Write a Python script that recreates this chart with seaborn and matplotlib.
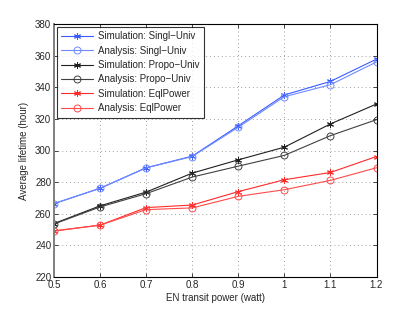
import numpy as np
import pandas as pd
import matplotlib
matplotlib.use("Agg")
import matplotlib.pyplot as plt
import seaborn as sns

# data
power = [0.5, 0.6, 0.7, 0.8, 0.9, 1.0, 1.1, 1.2]
sim_singl = [266.4, 276.1, 289.1, 296.4, 315.6, 335.1, 343.7, 357.8]
ana_singl = [266.4, 276.1, 289.0, 296.2, 314.7, 334.0, 341.6, 356.0]
sim_propo = [253.8, 265.0, 273.7, 285.7, 294.1, 302.1, 316.8, 329.4]
ana_propo = [253.5, 264.3, 272.7, 283.2, 290.1, 296.9, 309.4, 319.5]
sim_eql = [249.2, 252.8, 263.9, 265.5, 274.0, 281.5, 286.1, 296.2]
ana_eql = [249.0, 252.8, 262.6, 263.7, 271.0, 275.2, 281.1, 289.1]

series = [
    ("Simulation: Singl\u2212Univ", sim_singl, "#3b5bff", (6, 2, 0)),
    ("Analysis: Singl\u2212Univ", ana_singl, "#6f8bff", "o"),
    ("Simulation: Propo\u2212Univ", sim_propo, "#202020", (6, 2, 0)),
    ("Analysis: Propo\u2212Univ", ana_propo, "#404040", "o"),
    ("Simulation: EqlPower", sim_eql, "#ff2a2a", (6, 2, 0)),
    ("Analysis: EqlPower", ana_eql, "#ff4a4a", "o"),
]

sns.set_style("ticks")
plt.rcParams['font.family'] = ['Liberation Sans', 'DejaVu Sans']

fig = plt.figure(figsize=(4.15, 3.12), dpi=100)
ax = fig.add_axes([54 / 415, 1 - 277 / 312, (376.5 - 54) / 415, (277 - 24) / 312])

for name, vals, col, mk in series:
    df = pd.DataFrame({"power": power, "life": vals})
    sns.lineplot(data=df, x="power", y="life", ax=ax, color=col, marker=mk,
                 markersize=5, markerfacecolor="none",
                 markeredgecolor=col, markeredgewidth=0.7, linewidth=0.8,
                 label=name)

ax.set_xlim(0.5, 1.2)
ax.set_ylim(220, 380)
ax.set_xticks(power)
ax.set_xticklabels(["0.5", "0.6", "0.7", "0.8", "0.9", "1", "1.1", "1.2"])
ax.set_yticks(np.arange(220, 381, 20))
ax.tick_params(direction="in", labelsize=7, length=3, width=0.6, top=True, right=True, pad=2)
ax.grid(True, linestyle=(0, (1, 3)), color="#a0a0a0", linewidth=0.7)
for s in ax.spines.values():
    s.set_linewidth(0.8)
    s.set_color("black")
ax.spines["left"].set_color("#808080")
ax.spines["left"].set_linewidth(1.4)

ax.set_xlabel("EN transit power (watt)", fontsize=7, labelpad=2)
ax.set_ylabel("Average lifetime (hour)", fontsize=7, labelpad=4)

leg = ax.legend(loc="upper left", fontsize=7, frameon=True, fancybox=False,
                edgecolor="black", borderaxespad=0.3, handlelength=3.3,
                labelspacing=0.45, borderpad=0.45, handletextpad=0.5)
leg.get_frame().set_linewidth(0.8)

plt.savefig("out.png", dpi=100)
